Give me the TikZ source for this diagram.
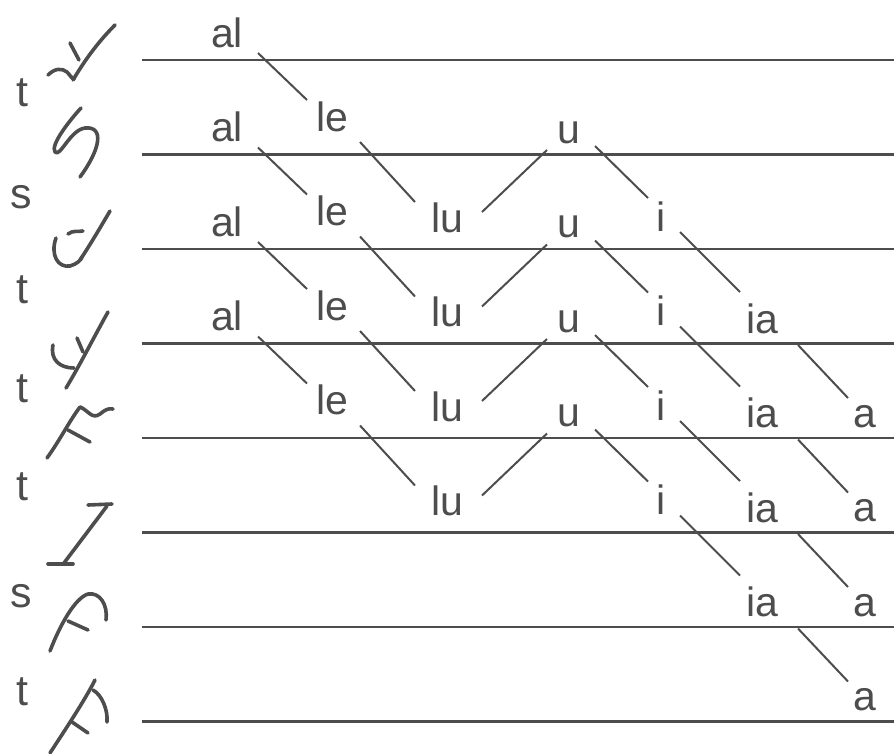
\documentclass[tikz,border=0pt]{standalone}
\usepackage{fontspec}
\setmainfont{Liberation Sans}
\usetikzlibrary{calc}
\definecolor{ink}{HTML}{4D4D4D}
\begin{document}
\begin{tikzpicture}[x=1pt,y=-1pt,
  staff/.style={line width=2.8pt, draw=ink},
  conn/.style={line width=2pt, draw=ink},
  syl/.style={anchor=base, inner sep=0pt, text=ink, font=\fontsize{41}{41}\selectfont},
  clef/.style={anchor=base, inner sep=0pt, text=ink, font=\fontsize{43}{43}\selectfont},
  neume/.style={line width=3.6pt, draw=ink, line cap=round, line join=round}]
\useasboundingbox (0,0) rectangle (894,753);
% staff lines
\foreach \i in {0,...,7} \draw[staff] (142,60+94.5*\i) -- (894,60+94.5*\i);
% strands
\foreach \k in {0,...,3} {
  \pgfmathsetmacro\d{94.5*\k}
  \node[syl] (al\k) at (227,47+\d) {al};
  \node[syl] (le\k) at (332,131+\d) {le};
  \node[syl] (lu\k) at (447,232+\d) {lu};
  \node[syl] (u\k)  at (569,143+\d) {u};
  \node[syl] (i\k)  at (661,231+\d) {i};
  \node[syl] (ia\k) at (762,333+\d) {ia};
  \node[syl] (a\k)  at (865,427+\d) {a};
  \draw[conn] ($(al\k.base)+(31,6)$) -- ($(le\k.base)+(-25,-31)$);
  \draw[conn] ($(le\k.base)+(28,11)$) -- ($(lu\k.base)+(-32,-30)$);
  \draw[conn] ($(lu\k.base)+(35,-20)$) -- ($(u\k.base)+(-22,7)$);
  \draw[conn] ($(u\k.base)+(26,3)$) -- ($(i\k.base)+(-13,-33)$);
  \draw[conn] ($(i\k.base)+(19,1)$) -- ($(ia\k.base)+(-22,-41)$);
  \draw[conn] ($(ia\k.base)+(36,12)$) -- ($(a\k.base)+(-17,-29)$);
}
% left letters
\node[clef] (c1) at (22,106) {t};
\node[clef] (c2) at (21,208) {s};
\node[clef] (c3) at (22,303) {t};
\node[clef] (c4) at (22,402) {t};
\node[clef] (c5) at (22,500) {t};
\node[clef] (c6) at (21,607) {s};
\node[clef] (c7) at (22,705) {t};
% neumes
% 1
\draw[neume] (115,25) .. controls (95,45) and (82,65) .. (73,80);
\draw[neume] (48,75) .. controls (55,68) and (62,68) .. (67,72) .. controls (70,75) and (72,79) .. (74,79);
\draw[neume] (70,43) -- (79,60);
% 2
\draw[neume] (81,108) .. controls (70,120) and (50,145) .. (55,152) .. controls (60,158) and (70,130) .. (85,128) .. controls (105,126) and (100,150) .. (80,177);
% 3
\draw[neume] (110,211) .. controls (100,228) and (90,245) .. (80,260);
\draw[neume] (56,238) .. controls (50,255) and (58,268) .. (70,266) .. controls (77,264) and (81,260) .. (82,257);
\draw[neume] (68,234) .. controls (73,230) and (78,232) .. (83,231);
% 4
\draw[neume] (108,312) .. controls (95,335) and (80,365) .. (66,388);
\draw[neume] (53,345) .. controls (50,360) and (60,368) .. (74,368);
\draw[neume] (77,338) -- (83,352);
% 5
\draw[neume] (47,458) .. controls (60,440) and (70,420) .. (80,407);
\draw[neume] (80,407) .. controls (88,410) and (92,420) .. (100,414) .. controls (105,410) and (108,408) .. (113,409);
\draw[neume] (68,430) -- (90,442);
% 6
\draw[neume] (88,505) -- (112,504);
\draw[neume] (107,506) -- (64,563);
\draw[neume] (48,564) -- (73,564);
% 7
\draw[neume] (50,651) .. controls (60,625) and (75,598) .. (88,594) .. controls (100,592) and (108,605) .. (106,620);
\draw[neume] (68,621) -- (88,630);
% 8
\draw[neume] (50,753) .. controls (65,730) and (85,700) .. (95,680);
\draw[neume] (93,690) .. controls (102,695) and (108,710) .. (107,722);
\draw[neume] (72,722) -- (88,733);
\end{tikzpicture}
\end{document}
